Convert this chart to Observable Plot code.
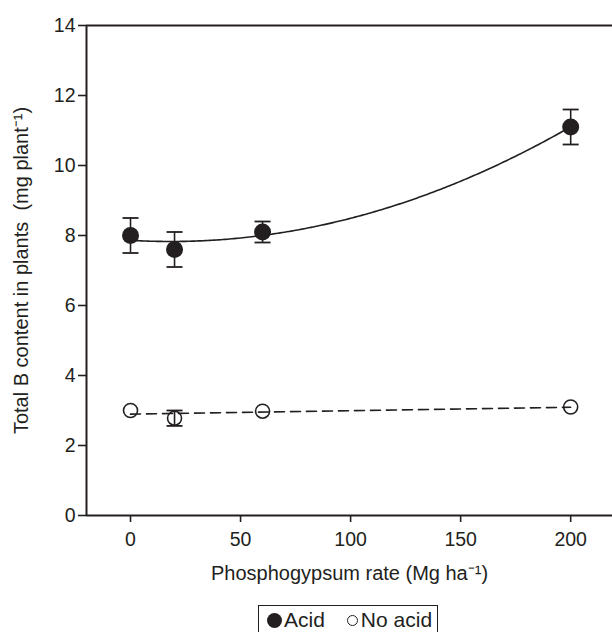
<!DOCTYPE html>
<html>
<head>
<meta charset="utf-8">
<script src="https://cdn.jsdelivr.net/npm/d3@7"></script>
<script src="https://cdn.jsdelivr.net/npm/@observablehq/plot@0.6"></script>
<style>
  html, body { margin: 0; padding: 0; background: #fff; width: 612px; height: 632px; overflow: hidden; }
  #chart { position: relative; width: 612px; }
  #chart svg g[aria-label="x-axis tick label"], #chart svg g[aria-label="y-axis tick label"] { font-size: 19.5px !important; }
  #chart svg g[aria-label="x-axis label"], #chart svg g[aria-label="y-axis label"] { font-size: 20px !important; }
  .legend {
    position: absolute; left: 258px; top: 605px; width: 180px; height: 32px;
    border: 1.5px solid #231f20; box-sizing: border-box;
    font-family: "Liberation Sans", Arial, sans-serif; font-size: 21px; color: #231f20;
    display: flex; align-items: flex-start; padding-top: 2px;
  }
  .legend .item { display: flex; align-items: center; line-height: 24px; }
  .sym { display: inline-block; border-radius: 50%; box-sizing: border-box; }
</style>
</head>
<body>
<div id="chart"></div>
<script>
// ---- data ----
const rates = [0, 20, 60, 200];
const acid = [8.0, 7.6, 8.1, 11.1];
const acidErr = [0.5, 0.5, 0.3, 0.5];
const noAcid = [3.0, 2.78, 2.98, 3.1];
const noAcidErr = [0, 0.22, 0, 0];
const xTicks = [0, 50, 100, 150, 200];
const yTicks = [0, 2, 4, 6, 8, 10, 12, 14];
const seriesNames = ["Acid", "No acid"];

const ink = "#231f20";

const acidData = rates.map((x, i) => ({x, y: acid[i], e: acidErr[i]}));
const noAcidData = rates.map((x, i) => ({x, y: noAcid[i], e: noAcidErr[i]}));

// quadratic least-squares fit for the Acid series
function quadFit(xs, ys) {
  const S = k => d3.sum(xs, x => x ** k);
  const T = k => d3.sum(xs, (x, i) => ys[i] * x ** k);
  const A = [[S(0), S(1), S(2)], [S(1), S(2), S(3)], [S(2), S(3), S(4)]];
  const b = [T(0), T(1), T(2)];
  const n = 3;
  for (let i = 0; i < n; i++) {
    for (let j = i + 1; j < n; j++) {
      const f = A[j][i] / A[i][i];
      for (let k = i; k < n; k++) A[j][k] -= f * A[i][k];
      b[j] -= f * b[i];
    }
  }
  const c = [0, 0, 0];
  for (let i = n - 1; i >= 0; i--) {
    let s = b[i];
    for (let k = i + 1; k < n; k++) s -= A[i][k] * c[k];
    c[i] = s / A[i][i];
  }
  return x => c[0] + c[1] * x + c[2] * x * x;
}
const fit = quadFit(rates, acid);
const xExt = d3.extent(rates);
const curve = d3.range(xExt[0], xExt[1] + 0.001, 1).map(x => ({x, y: fit(x)}));

const capSymbol = {
  draw(context, size) {
    const w = Math.sqrt(size / Math.PI);
    context.moveTo(-w, 0);
    context.lineTo(w, 0);
  }
};

const errRows = [...acidData, ...noAcidData].filter(d => d.e > 0);
const caps = errRows.flatMap(d => [{x: d.x, y: d.y + d.e}, {x: d.x, y: d.y - d.e}]);

const plot = Plot.plot({
  width: 612,
  height: 603,
  marginTop: 25,
  marginBottom: 88,
  marginLeft: 86,
  marginRight: 0,
  style: {fontFamily: "'Liberation Sans', Arial, sans-serif", fontSize: "19px", color: ink, background: "#fff"},
  x: {domain: [-20, 219]},
  y: {domain: [0, 14]},
  marks: [
    Plot.axisX({ticks: xTicks, tickSize: 7, tickPadding: 10, strokeWidth: 1.6,
      label: "Phosphogypsum rate (Mg ha⁻¹)", labelAnchor: "center", labelArrow: "none", labelOffset: 64}),
    Plot.axisY({ticks: yTicks, tickSize: 8, tickPadding: 3, strokeWidth: 1.6,
      label: "Total B content in plants\u00a0 (mg plant⁻¹)", labelAnchor: "center", labelArrow: "none", labelOffset: 73}),
    Plot.ruleY([0, 14], {stroke: ink, strokeWidth: 2}),
    Plot.ruleX([-20], {y1: 0, y2: 14, stroke: ink, strokeWidth: 2}),
    Plot.line(curve, {x: "x", y: "y", stroke: ink, strokeWidth: 1.6}),
    Plot.linearRegressionY(noAcidData, {x: "x", y: "y", ci: 0, stroke: ink, strokeWidth: 1.6, strokeDasharray: "10,6"}),
    Plot.ruleX(errRows, {x: "x", y1: d => d.y - d.e, y2: d => d.y + d.e, stroke: ink, strokeWidth: 1.6}),
    Plot.dot(caps, {x: "x", y: "y", symbol: capSymbol, r: 8, stroke: ink, strokeWidth: 1.8, fill: "none"}),
    Plot.dot(acidData, {x: "x", y: "y", r: 8.5, fill: ink, stroke: "none"}),
    Plot.dot(noAcidData, {x: "x", y: "y", r: 7, fill: "none", stroke: ink, strokeWidth: 1.6})
  ]
});
const chart = document.getElementById("chart");
chart.appendChild(plot);

const legend = document.createElement("div");
legend.className = "legend";
legend.innerHTML = `
  <span class="item" style="margin-left:8px"><span class="sym" style="width:15px;height:15px;background:${ink};margin-right:2px"></span>${seriesNames[0]}</span>
  <span class="item" style="margin-left:22px"><span class="sym" style="width:11px;height:11px;border:1.3px solid ${ink};margin-right:3px"></span>${seriesNames[1]}</span>`;
chart.appendChild(legend);
</script>
</body>
</html>
